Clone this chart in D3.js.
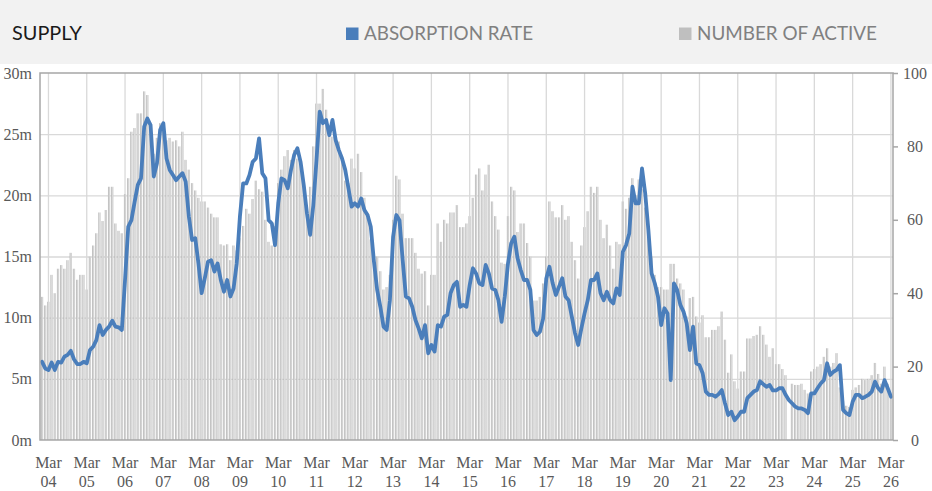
<!DOCTYPE html>
<html>
<head>
<meta charset="utf-8">
<script src="https://cdn.jsdelivr.net/npm/d3@7"></script>
<style>
  body { margin: 0; background: #fff; }
  svg { display: block; }
  .header text { font-family: Lato, "Open Sans", sans-serif; font-size: 18.5px; }
  text.serif, text.serif tspan { font-family: "Liberation Serif", serif; }
</style>
</head>
<body>
<div id="chart"></div>
<script>
// SUPPLY CHART - monthly, Jan 2004 to Mar 2026

// Number of active listings (left axis, millions), one row per year
var activeListings = [
  11.7, 11.0, 11.3, 13.5, 12.0, 14.0, 14.3, 14.0, 14.7, 15.3, 14.0, 13.1,
  13.5, 13.5, 12.3, 15.0, 15.9, 16.9, 18.6, 17.9, 18.8, 20.7, 20.7, 17.7,
  17.1, 16.9, 20.1, 21.4, 25.2, 25.5, 26.7, 26.7, 28.5, 28.2, 25.8, 23.4,
  24.7, 25.9, 25.3, 24.5, 24.7, 24.4, 24.5, 24.0, 25.2, 22.9, 22.1, 21.0,
  20.4, 19.8, 19.5, 19.5, 19.0, 18.5, 18.2, 18.2, 16.0, 15.9, 16.0, 14.7,
  15.9, 15.5, 16.5, 17.5, 18.9, 18.5, 19.7, 21.2, 20.5, 20.3, 18.0, 16.2,
  15.9, 17.5, 21.0, 22.1, 23.2, 23.7, 22.9, 23.7, 23.0, 22.5, 21.0, 18.5,
  20.7, 24.0, 27.5, 27.5, 28.7, 27.0, 25.7, 24.8, 24.5, 24.4, 23.0, 21.2,
  21.0, 23.0, 22.2, 23.4, 21.9, 19.8, 18.2, 16.4, 15.0, 15.0, 13.8, 12.3,
  12.5, 13.5, 18.0, 21.6, 21.3, 18.5, 16.5, 16.5, 16.5, 15.3, 14.0, 13.6,
  13.8, 11.0, 13.5, 13.5, 17.7, 16.2, 18.0, 17.7, 18.6, 18.6, 19.2, 17.4,
  17.4, 17.7, 18.3, 19.8, 21.7, 22.2, 20.4, 21.7, 22.5, 19.5, 18.3, 17.2,
  14.5, 14.4, 18.3, 20.7, 20.4, 17.0, 17.7, 17.7, 16.1, 15.0, 11.4, 11.4,
  11.7, 12.8, 15.0, 19.5, 18.7, 18.2, 18.2, 19.2, 18.0, 18.3, 16.2, 14.7,
  13.2, 15.9, 17.4, 18.7, 20.7, 20.2, 20.7, 18.0, 16.5, 17.6, 15.9, 14.0,
  16.2, 16.0, 19.5, 18.9, 19.8, 21.4, 20.0, 21.3, 20.5, 19.0, 17.0, 15.0,
  13.5, 12.5, 12.5, 12.3, 12.3, 14.4, 14.4, 13.2, 12.8, 12.3, 10.1, 11.6,
  11.7, 10.1, 9.6, 10.2, 8.4, 8.4, 9.0, 9.0, 9.3, 10.5, 8.2, 5.5,
  7.0, 4.8, 4.2, 5.6, 5.6, 8.3, 8.3, 8.5, 8.6, 9.3, 8.6, 7.8,
  6.8, 7.5, 6.2, 6.2, 5.8, 5.3, 0, 4.6, 4.5, 4.5, 4.6, 4.1,
  3.8, 5.6, 5.8, 6.0, 6.2, 6.8, 7.5, 6.0, 6.3, 7.1, 4.3, 3.2,
  2.8, 2.7, 4.1, 4.3, 4.5, 5.0, 4.9, 5.0, 5.3, 6.3, 5.4, 4.6,
  6.0, 4.6, 3.5
];

// Absorption rate (right axis), one row per year
var absorptionRate = [
  21.3, 19.5, 19.1, 21.1, 19.1, 21.3, 21.1, 22.7, 23.2, 24.3, 22.0, 20.7,
  20.7, 21.3, 20.9, 24.5, 25.4, 27.2, 31.3, 28.6, 30.0, 30.9, 32.5, 30.9,
  30.7, 30.0, 43.6, 58.1, 59.9, 64.9, 69.5, 71.3, 85.4, 87.6, 85.8, 71.8,
  75.4, 84.5, 86.3, 76.7, 73.6, 72.2, 70.8, 71.8, 72.7, 70.4, 60.9, 54.5,
  55.0, 48.1, 40.0, 44.1, 48.6, 49.0, 45.9, 48.1, 43.6, 40.4, 43.6, 39.1,
  41.3, 48.1, 60.9, 69.9, 69.9, 72.2, 75.8, 76.7, 82.2, 72.7, 71.3, 59.9,
  59.0, 53.1, 64.5, 71.3, 70.8, 68.6, 73.6, 77.7, 79.5, 75.8, 69.5, 61.8,
  55.9, 64.0, 76.3, 89.5, 86.3, 87.2, 83.1, 87.2, 81.7, 79.0, 76.7, 73.6,
  68.6, 63.6, 64.5, 63.6, 65.8, 62.7, 61.3, 58.1, 48.6, 40.9, 36.3, 30.9,
  30.0, 38.1, 55.4, 61.3, 59.9, 49.0, 39.1, 38.6, 36.3, 32.7, 30.4, 27.7,
  31.3, 23.6, 25.9, 24.1, 31.3, 30.9, 33.6, 34.1, 40.0, 42.2, 43.1, 36.3,
  36.8, 36.3, 42.2, 46.8, 45.4, 42.7, 42.2, 47.7, 45.4, 41.3, 40.9, 38.1,
  32.2, 39.1, 48.1, 53.6, 55.4, 49.5, 46.3, 43.6, 43.6, 40.9, 30.0, 28.6,
  29.5, 33.0, 44.0, 47.2, 42.7, 39.5, 41.8, 44.1, 39.1, 38.1, 33.6, 29.1,
  25.9, 30.4, 34.5, 38.1, 43.6, 43.6, 45.4, 40.0, 38.1, 40.4, 38.1, 37.2,
  41.3, 39.5, 51.3, 53.1, 56.3, 69.0, 64.5, 64.5, 74.0, 67.2, 57.2, 45.4,
  42.7, 39.1, 31.3, 35.9, 34.5, 16.3, 42.7, 40.9, 36.8, 35.0, 31.8, 24.5,
  30.9, 20.9, 20.4, 18.2, 13.2, 12.3, 12.3, 11.8, 12.5, 13.6, 10.0, 6.8,
  7.7, 5.4, 6.4, 7.7, 7.7, 11.4, 12.3, 13.2, 13.6, 16.0, 15.2, 14.5,
  15.0, 13.5, 13.5, 14.1, 14.1, 12.3, 10.9, 10.0, 9.1, 8.6, 8.6, 8.2,
  7.3, 12.7, 12.7, 14.1, 15.4, 16.3, 20.9, 17.7, 18.6, 19.1, 20.4, 8.2,
  7.3, 6.8, 10.4, 12.3, 12.3, 11.4, 11.8, 12.3, 13.2, 15.9, 14.1, 13.2,
  16.3, 14.1, 11.8
];

// Tick labels
var yearLabels = ["04", "05", "06", "07", "08", "09", "10", "11", "12", "13", "14",
  "15", "16", "17", "18", "19", "20", "21", "22", "23", "24", "25", "26"];
var leftTicks = [0, 5, 10, 15, 20, 25, 30];
var rightTicks = [0, 20, 40, 60, 80, 100];

// Categories: every month from Jan 2004 to Mar 2026
var months = d3.timeMonth.range(new Date(2004, 0, 1), new Date(2026, 3, 1));
var marchMonths = yearLabels.map((y, k) => months[k * 12 + 2]);

// 1. SVG area
var svgWidth = 932;
var svgHeight = 491;
var plot = { left: 40, right: 893, top: 73, bottom: 440 };

var svg = d3.select("#chart").append("svg")
  .attr("width", svgWidth)
  .attr("height", svgHeight);

// bar gradient
var grad = svg.append("defs").append("linearGradient")
  .attr("id", "barGrad")
  .attr("x1", "0").attr("x2", "1").attr("y1", "0").attr("y2", "0");
grad.append("stop").attr("offset", "0%").attr("stop-color", "#a9a9a9");
grad.append("stop").attr("offset", "45%").attr("stop-color", "#dcdcdc");
grad.append("stop").attr("offset", "100%").attr("stop-color", "#cbcbcb");

// 2. Header band with title and legend
var header = svg.append("g").attr("class", "header");
header.append("rect")
  .attr("x", 0).attr("y", 0)
  .attr("width", svgWidth).attr("height", 64)
  .attr("fill", "#f2f2f2");

header.append("text")
  .attr("x", 12).attr("y", 40)
  .attr("fill", "#1a1a1a")
  .attr("textLength", 70).attr("lengthAdjust", "spacingAndGlyphs")
  .text("SUPPLY");

var legendItems = [
  { label: "ABSORPTION RATE", color: "#4a7ebb", x: 346, width: 169 },
  { label: "NUMBER OF ACTIVE", color: "#bfbfbf", x: 679, width: 180 }
];
legendItems.forEach(function (item) {
  header.append("rect")
    .attr("x", item.x).attr("y", 27.5)
    .attr("width", 12.5).attr("height", 12.5)
    .attr("fill", item.color);
  header.append("text")
    .attr("x", item.x + 18).attr("y", 40)
    .attr("fill", "#808080")
    .attr("textLength", item.width).attr("lengthAdjust", "spacingAndGlyphs")
    .text(item.label);
});

// 3. Scales
var x = d3.scaleBand()
  .domain(months)
  .range([plot.left, plot.right])
  .padding(0.3);

var yLeft = d3.scaleLinear().domain([0, 30]).range([plot.bottom, plot.top]);
var yRight = d3.scaleLinear().domain([0, 100]).range([plot.bottom, plot.top]);

// 4. Gridlines
var gridColor = "#d9d9d9";
svg.append("g")
  .attr("transform", `translate(${plot.left}, 0)`)
  .call(d3.axisLeft(yLeft).tickValues(leftTicks.slice(1, -1))
    .tickSize(-(plot.right - plot.left)).tickFormat(""))
  .call(g => g.select(".domain").remove())
  .call(g => g.selectAll("line").attr("stroke", gridColor).attr("stroke-width", 1.3));

svg.append("g")
  .attr("transform", `translate(0, ${plot.bottom})`)
  .call(d3.axisBottom(x).tickValues(marchMonths)
    .tickSize(-(plot.bottom - plot.top)).tickFormat(""))
  .call(g => g.select(".domain").remove())
  .call(g => g.selectAll("line").attr("stroke", gridColor).attr("stroke-width", 1.3));

// 5. Bars (number of active)
svg.append("g")
  .selectAll("rect")
  .data(months)
  .enter()
  .append("rect")
  .attr("x", d => x(d))
  .attr("y", (d, i) => yLeft(activeListings[i]))
  .attr("width", x.bandwidth())
  .attr("height", (d, i) => plot.bottom - yLeft(activeListings[i]))
  .attr("fill", "url(#barGrad)");

// 6. Line (absorption rate)
var line = d3.line()
  .x((d, i) => x(months[i]) + x.bandwidth() / 2)
  .y(d => yRight(d));

svg.append("path")
  .datum(absorptionRate)
  .attr("d", line)
  .attr("fill", "none")
  .attr("stroke", "#4a7ebb")
  .attr("stroke-width", 3.8)
  .attr("stroke-linejoin", "round")
  .attr("stroke-linecap", "round");

// 7. Frame
svg.append("rect")
  .attr("x", plot.left).attr("y", plot.top)
  .attr("width", plot.right - plot.left)
  .attr("height", plot.bottom - plot.top)
  .attr("fill", "none")
  .attr("stroke", "#a6a6a6")
  .attr("stroke-width", 1.5);

// 8. Axes (serif labels)
function styleLabels(g) {
  g.attr("font-family", null).attr("font-size", null);
  g.selectAll("text")
    .classed("serif", true)
    .attr("font-family", "Liberation Serif")
    .attr("font-size", 16)
    .attr("fill", "#595959");
}

svg.append("g")
  .attr("transform", `translate(${plot.left}, 0)`)
  .call(d3.axisLeft(yLeft).tickValues(leftTicks).tickSize(0).tickPadding(8)
    .tickFormat(d => d + "m"))
  .call(g => g.select(".domain").remove())
  .call(styleLabels);

svg.append("g")
  .attr("transform", `translate(${plot.right}, 0)`)
  .call(d3.axisRight(yRight).tickValues(rightTicks).tickSize(5))
  .call(g => g.select(".domain").remove())
  .call(g => g.selectAll("line").attr("stroke", "#a6a6a6").attr("stroke-width", 1.5))
  .call(g => g.selectAll("text").attr("x", 22).attr("text-anchor", "middle"))
  .call(styleLabels);

svg.append("g")
  .attr("transform", `translate(0, ${plot.bottom})`)
  .call(d3.axisBottom(x).tickValues(marchMonths).tickSize(0)
    .tickFormat((d, i) => yearLabels[i]))
  .call(g => g.select(".domain").remove())
  .call(g => g.selectAll(".tick text").each(function (d, i) {
    var t = d3.select(this).text(null).attr("dy", null).attr("y", null);
    t.append("tspan").attr("x", 0).attr("y", 28).text("Mar");
    t.append("tspan").attr("x", 0).attr("y", 47).text(yearLabels[i]);
  }))
  .call(styleLabels);
</script>
</body>
</html>
